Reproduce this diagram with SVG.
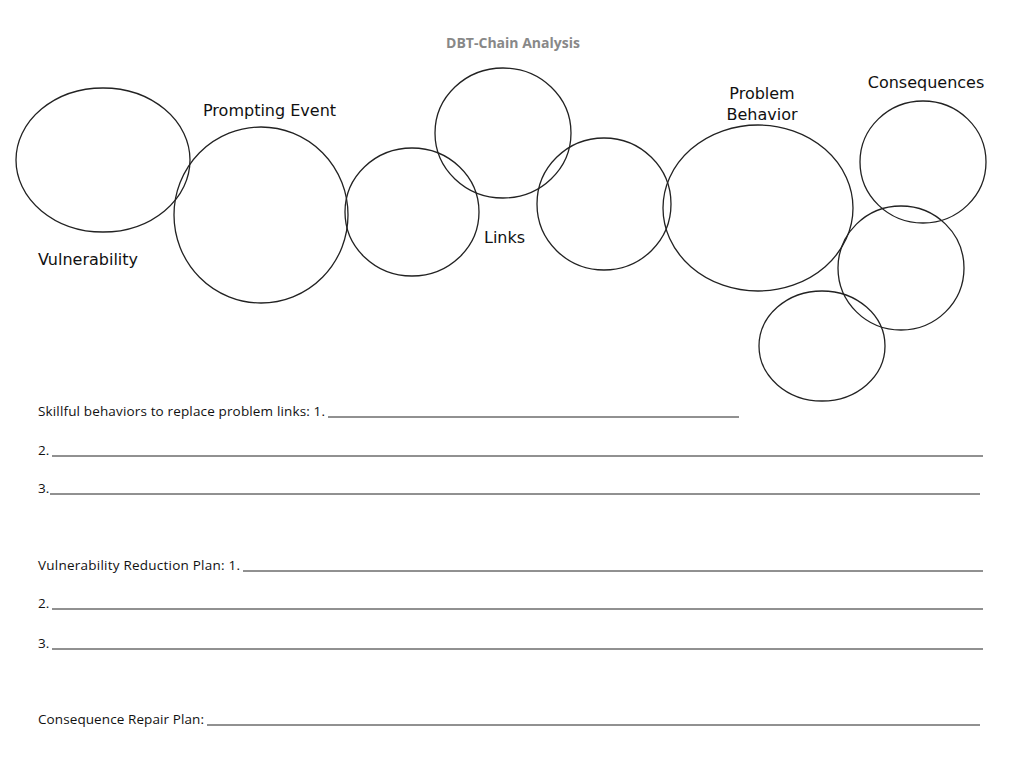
<svg xmlns="http://www.w3.org/2000/svg" width="1024" height="782" viewBox="0 0 1024 782">
<style>
.c{fill:none;stroke:#222;stroke-width:1.3}
.l{font-family:"DejaVu Sans",sans-serif;font-size:16px;fill:#111}
.t{font-family:"Open Sans",sans-serif;font-size:13.5px;fill:#111}
.u{stroke:#222;stroke-width:1}
</style>
<rect width="1024" height="782" fill="#fff"/>
<text x="513" y="48" text-anchor="middle" font-family="Open Sans,sans-serif" font-weight="bold" font-size="14" fill="#888">DBT-Chain Analysis</text>
<g id="vulnerability"><ellipse class="c" cx="103" cy="160" rx="87" ry="72"/><text class="l" x="38" y="265">Vulnerability</text></g>
<g id="prompting"><ellipse class="c" cx="261" cy="215" rx="87" ry="88"/><text class="l" x="203" y="116">Prompting Event</text></g>
<g id="link1"><ellipse class="c" cx="412" cy="212" rx="67" ry="64"/></g>
<g id="link2"><ellipse class="c" cx="503" cy="133" rx="68" ry="65"/><text class="l" x="484" y="243">Links</text></g>
<g id="link3"><ellipse class="c" cx="604" cy="204" rx="67" ry="66"/></g>
<g id="problem"><ellipse class="c" cx="758" cy="208" rx="95" ry="83"/><text class="l" x="762" y="99" text-anchor="middle">Problem</text><text class="l" x="762" y="120" text-anchor="middle">Behavior</text></g>
<g id="cons1"><ellipse class="c" cx="923" cy="162" rx="63" ry="61"/><text class="l" x="926" y="88" text-anchor="middle">Consequences</text></g>
<g id="cons2"><ellipse class="c" cx="901" cy="268" rx="63" ry="62"/></g>
<g id="cons3"><ellipse class="c" cx="822" cy="346" rx="63" ry="55"/></g>
<g id="connectors"></g>
<g id="form">
<text class="t" x="38" y="416" textLength="287">Skillful behaviors to replace problem links: 1.</text><line class="u" x1="328" y1="417" x2="739" y2="417"/>
<text class="t" x="38" y="455">2.</text><line class="u" x1="52" y1="456" x2="983" y2="456"/>
<text class="t" x="38" y="493">3.</text><line class="u" x1="50" y1="494" x2="980" y2="494"/>
<text class="t" x="38" y="570" textLength="202">Vulnerability Reduction Plan: 1.</text><line class="u" x1="243" y1="571" x2="983" y2="571"/>
<text class="t" x="38" y="608">2.</text><line class="u" x1="52" y1="609" x2="983" y2="609"/>
<text class="t" x="38" y="648">3.</text><line class="u" x1="52" y1="649" x2="983" y2="649"/>
<text class="t" x="38" y="724" textLength="166">Consequence Repair Plan:</text><line class="u" x1="207" y1="725" x2="980" y2="725"/>
</g>
</svg>
